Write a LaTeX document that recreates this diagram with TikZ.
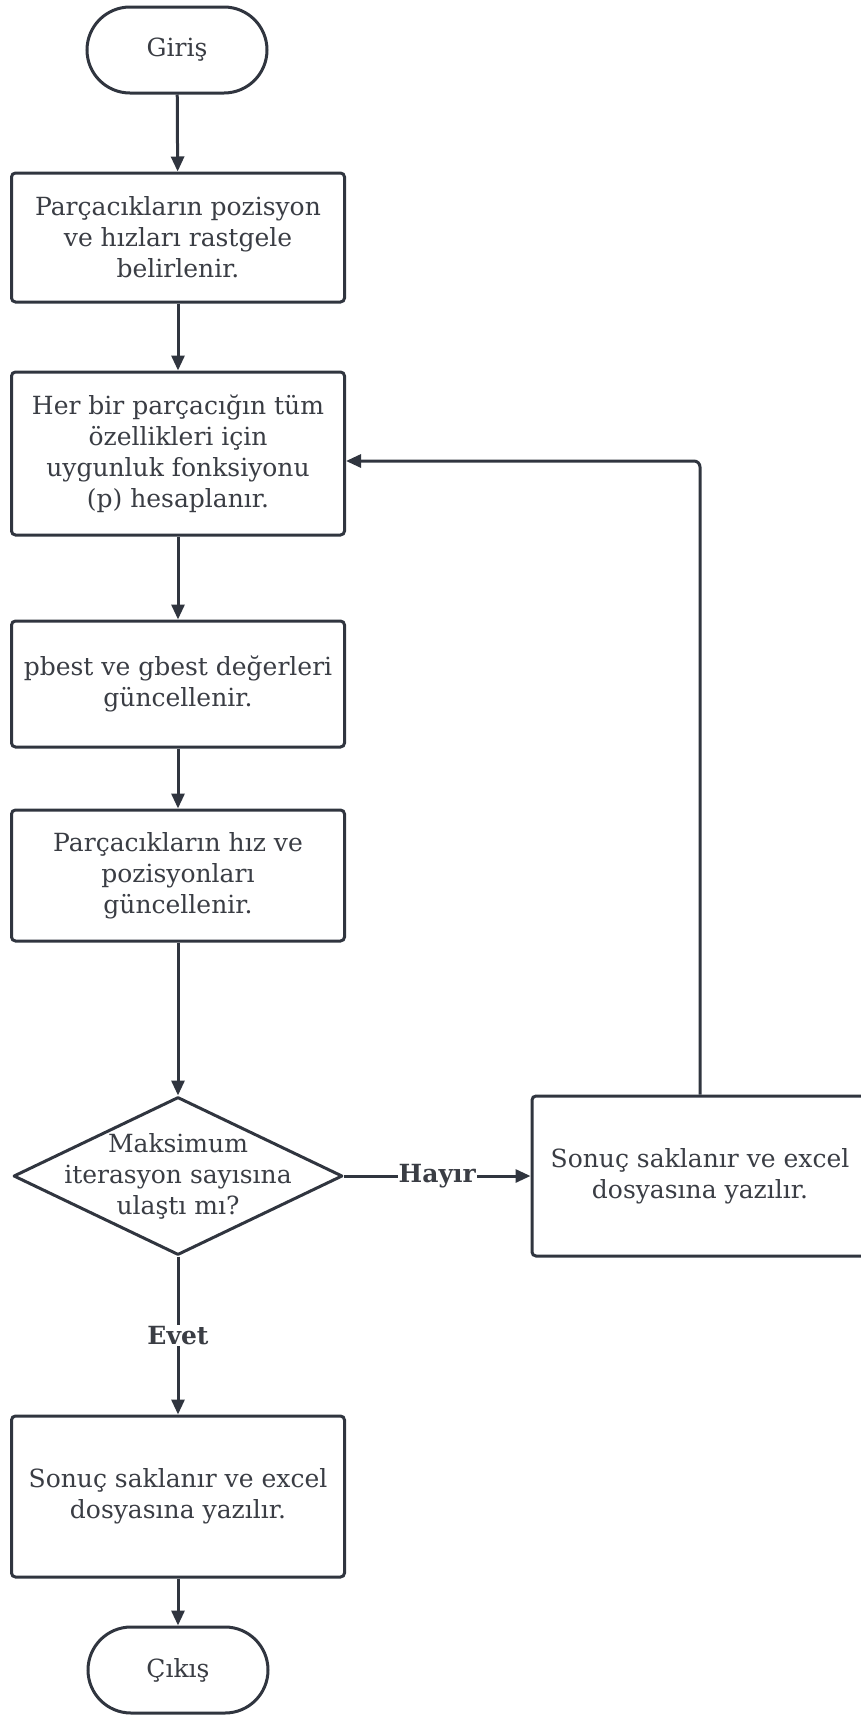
\documentclass[tikz,border=0pt]{standalone}
\usepackage{fontspec}
\setmainfont{DejaVu Serif}
\usetikzlibrary{arrows.meta,shapes.geometric}
\definecolor{edge}{HTML}{30353F}
\definecolor{ink}{HTML}{3A3D44}
\begin{document}
\begin{tikzpicture}[x=1pt,y=-1pt,
  every node/.style={text=ink, font=\fontsize{25}{31}\selectfont},
  procbox/.style={draw=edge, line width=3pt, rounded corners=4pt, fill=white,
    minimum width=333pt, align=center, inner sep=0pt},
  terminal/.style={draw=edge, line width=3pt, rounded corners=43pt, fill=white,
    minimum width=180pt, minimum height=86pt, inner sep=0pt},
  decision/.style={draw=edge, line width=3pt, diamond, fill=white, inner sep=0pt,
    minimum width=329pt, minimum height=158pt, line join=round},
  flow/.style={draw=edge, line width=3pt, -{Triangle[length=15pt,width=13pt]}},
  lbl/.style={font=\fontsize{25}{28}\selectfont\bfseries, fill=white, inner sep=1pt}
]
\useasboundingbox (0,0) rectangle (860,1716);

% start / end
\node[terminal] (start) at (177,50) {Giriş};
\node[terminal] (stop) at (178,1670) {Çıkış};

% process boxes
\node[procbox, minimum height=129pt] (init) at (178,237.5)
  {Parçacıkların pozisyon\\ve hızları rastgele\\belirlenir.};
\node[procbox, minimum height=163pt] (fit) at (178,453.5)
  {Her bir parçacığın tüm\\özellikleri için\\uygunluk fonksiyonu\\(p) hesaplanır.};
\node[procbox, minimum height=126pt] (best) at (178,684)
  {pbest ve gbest değerleri\\güncellenir.};
\node[procbox, minimum height=131pt] (move) at (178,875.5)
  {Parçacıkların hız ve\\pozisyonları\\güncellenir.};

% decision
\node[decision] (check) at (178,1176) {};
\node[align=center] (checktxt) at (check.center)
  {Maksimum\\iterasyon sayısına\\ulaştı mı?};

% save boxes
\node[procbox, minimum width=336pt, minimum height=160pt] (saveloop) at (700,1176)
  {Sonuç saklanır ve excel\\dosyasına yazılır.};
\node[procbox, minimum height=161pt] (savefinal) at (178,1496.5)
  {Sonuç saklanır ve excel\\dosyasına yazılır.};

% connectors
\draw[flow] (start) -- (init);
\draw[flow] (init) -- (fit);
\draw[flow] (fit) -- (best);
\draw[flow] (best) -- (move);
\draw[flow] (move) -- (check);
\draw[flow] (check.east) -- node[lbl] {Hayır} (saveloop.west);
\draw[flow, rounded corners=6pt] (saveloop.north) |- (fit.east |- 0,461);
\draw[flow] (check.south) -- node[lbl] {Evet} (savefinal.north);
\draw[flow] (savefinal) -- (stop);
\end{tikzpicture}
\end{document}
